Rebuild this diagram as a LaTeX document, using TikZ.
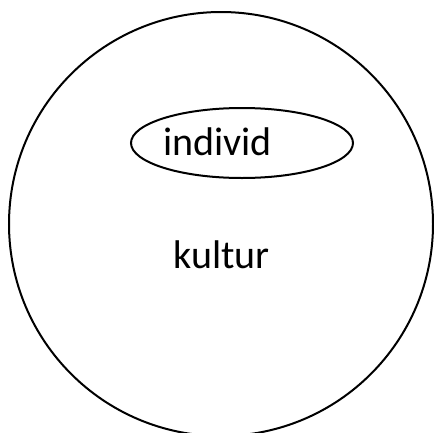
\documentclass[tikz,border=0pt]{standalone}
\usepackage{fontspec}
\setmainfont{Carlito}
\usetikzlibrary{shapes.geometric}
\begin{document}
\begin{tikzpicture}[x=1pt,y=-1pt,
  outline/.style={draw=black,line width=2pt,inner sep=0pt},
  label/.style={font=\fontsize{40}{48}\selectfont,anchor=base,inner sep=0pt}]
\useasboundingbox (0,0) rectangle (434,432);
\begin{scope}
\clip (0,0) rectangle (434,432);
\node[outline,circle,minimum size=424pt] (kulturcircle) at (221,224) {};
\end{scope}
\node[outline,ellipse,minimum width=222pt,minimum height=70pt] (individellipse) at (242,143) {};
\node[label] (individ) at (217.5,155) {individ};
\node[label] (kultur) at (221.5,268) {kultur};
\end{tikzpicture}
\end{document}
